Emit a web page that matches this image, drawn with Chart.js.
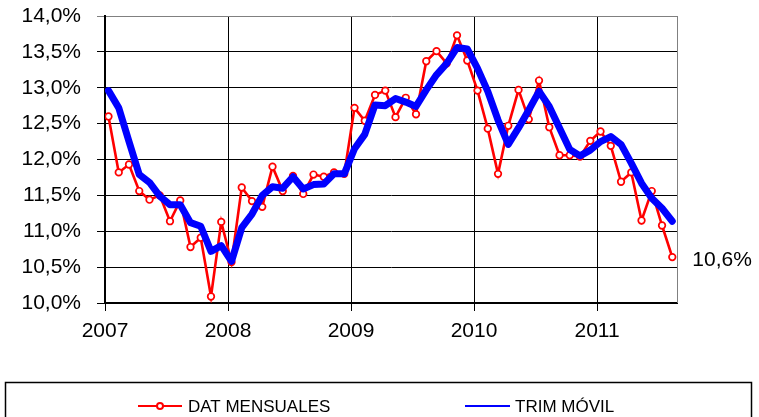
<!DOCTYPE html>
<html>
<head>
<meta charset="utf-8">
<script src="https://cdn.jsdelivr.net/npm/chart.js@4.4.0/dist/chart.umd.min.js"></script>
<style>
  html, body { margin: 0; padding: 0; background: #ffffff; }
  #wrap { position: relative; width: 759px; height: 417px; }
</style>
</head>
<body>
<div id="wrap"><canvas id="c" width="759" height="417"></canvas></div>
<script>
// ---- Data (monthly, Jan 2007 – Aug 2011) ----
const YEAR_LABELS = ['2007', '2008', '2009', '2010', '2011'];
const SERIES_NAMES = ['DAT MENSUALES', 'TRIM MÓVIL'];

const datMensuales2007 = [12.60, 11.82, 11.93, 11.56, 11.44, 11.50, 11.14, 11.43, 10.78, 10.91, 10.09, 11.13];
const datMensuales2008 = [10.57, 11.61, 11.42, 11.34, 11.90, 11.56, 11.77, 11.52, 11.79, 11.76, 11.82, 11.80];
const datMensuales2009 = [12.72, 12.54, 12.90, 12.96, 12.59, 12.86, 12.63, 13.37, 13.51, 13.34, 13.73, 13.38];
const datMensuales2010 = [12.96, 12.43, 11.80, 12.47, 12.97, 12.56, 13.10, 12.45, 12.06, 12.06, 12.04, 12.26];
const datMensuales2011 = [12.39, 12.19, 11.69, 11.82, 11.15, 11.56, 11.08, 10.64];

const trimMovil2007 = [12.96, 12.72, 12.25, 11.79, 11.68, 11.49, 11.37, 11.37, 11.12, 11.07, 10.72, 10.80];
const trimMovil2008 = [10.58, 11.05, 11.24, 11.50, 11.62, 11.60, 11.76, 11.59, 11.65, 11.66, 11.80, 11.80];
const trimMovil2009 = [12.15, 12.35, 12.76, 12.75, 12.85, 12.80, 12.74, 12.97, 13.18, 13.34, 13.56, 13.54];
const trimMovil2010 = [13.27, 12.95, 12.55, 12.21, 12.44, 12.69, 12.95, 12.74, 12.44, 12.14, 12.05, 12.13];
const trimMovil2011 = [12.25, 12.32, 12.21, 11.95, 11.67, 11.46, 11.32, 11.14];

const LAST_LABEL = '10,6%';

// ---- Build ----
const datMensuales = [].concat(datMensuales2007, datMensuales2008, datMensuales2009, datMensuales2010, datMensuales2011);
const trimMovil = [].concat(trimMovil2007, trimMovil2008, trimMovil2009, trimMovil2010, trimMovil2011);
const MONTH_OFFSET = 0.34; // points sit slightly after each year's grid line
const toPts = arr => arr.map((v, i) => ({ x: i + MONTH_OFFSET, y: v }));
const YEAR_TICKS = YEAR_LABELS.map((_, k) => k * 12);

const FONT = "'Liberation Sans', Arial, sans-serif";

const extrasPlugin = {
  id: 'extras',
  afterDatasetsDraw(chart) {
    const ctx = chart.ctx;
    const a = chart.chartArea;
    ctx.save();
    // right border (grey)
    ctx.strokeStyle = '#808080';
    ctx.lineWidth = 1;
    ctx.beginPath();
    ctx.moveTo(Math.round(a.right) + 0.5, a.top);
    ctx.lineTo(Math.round(a.right) + 0.5, a.bottom);
    ctx.stroke();
    // last value label of the monthly series
    const meta = chart.getDatasetMeta(0);
    const last = meta.data[meta.data.length - 1];
    ctx.fillStyle = '#000';
    ctx.font = '21px ' + FONT;
    ctx.textAlign = 'left';
    ctx.textBaseline = 'middle';
    ctx.fillText(LAST_LABEL, last.x + 20, last.y + 3);
    ctx.restore();
  },
  afterDraw(chart) {
    const ctx = chart.ctx;
    ctx.save();
    // legend box
    ctx.strokeStyle = '#000';
    ctx.lineWidth = 1.5;
    ctx.strokeRect(5.5, 382.5, 746, 60);
    const ly = 406;
    // red item
    ctx.strokeStyle = '#FF0000';
    ctx.lineWidth = 2;
    ctx.beginPath(); ctx.moveTo(138, ly); ctx.lineTo(182, ly); ctx.stroke();
    ctx.fillStyle = '#fff';
    ctx.beginPath(); ctx.arc(160, ly, 3, 0, Math.PI * 2); ctx.fill(); ctx.stroke();
    // blue item
    ctx.strokeStyle = '#0000FF';
    ctx.lineWidth = 2;
    ctx.beginPath(); ctx.moveTo(465, ly); ctx.lineTo(510, ly); ctx.stroke();
    ctx.fillStyle = '#000';
    ctx.font = '17px ' + FONT;
    ctx.textAlign = 'left';
    ctx.textBaseline = 'middle';
    ctx.fillText(SERIES_NAMES[0], 188, ly + 1);
    ctx.fillText(SERIES_NAMES[1], 515, ly + 1);
    ctx.restore();
  }
};

new Chart(document.getElementById('c'), {
  type: 'line',
  data: {
    datasets: [
      {
        label: SERIES_NAMES[0],
        data: toPts(datMensuales),
        borderColor: '#FF0000',
        borderWidth: 2.6,
        pointRadius: 3.3,
        pointBorderWidth: 1.7,
        pointBackgroundColor: '#ffffff',
        pointBorderColor: '#FF0000',
        tension: 0,
        order: 1
      },
      {
        label: SERIES_NAMES[1],
        data: toPts(trimMovil),
        borderColor: '#0000FF',
        borderWidth: 7,
        pointRadius: 0,
        borderJoinStyle: 'round',
        borderCapStyle: 'round',
        tension: 0,
        order: 0
      }
    ]
  },
  options: {
    responsive: false,
    animation: false,
    layout: { padding: { top: 16, right: 82, bottom: 74, left: 0 } },
    plugins: {
      legend: { display: false },
      tooltip: { enabled: false }
    },
    scales: {
      x: {
        type: 'linear',
        min: 0,
        max: 55.8,
        afterBuildTicks: s => { s.ticks = YEAR_TICKS.map(v => ({ value: v })); },
        afterFit: s => { s.height = 40; },
        ticks: {
          color: '#000',
          font: { family: FONT, size: 21 },
          padding: 8,
          maxRotation: 0,
          autoSkip: false,
          callback: (v) => YEAR_LABELS[Math.round(v / 12)]
        },
        grid: { color: '#000', lineWidth: 1, tickLength: 8, drawTicks: true },
        border: { color: '#000', width: 2 }
      },
      y: {
        min: 10,
        max: 14,
        afterFit: s => { s.width = 105; s.paddingTop = 0; s.paddingBottom = 0; },
        ticks: {
          stepSize: 0.5,
          color: '#000',
          font: { family: FONT, size: 21 },
          padding: 16,
          callback: v => v.toFixed(1).replace('.', ',') + '%'
        },
        grid: {
          color: c => (c.tick && c.tick.value === 14 ? '#808080' : '#000'),
          lineWidth: 1,
          tickLength: 8,
          drawTicks: true
        },
        border: { color: '#000', width: 2 }
      }
    }
  },
  plugins: [extrasPlugin]
});
</script>
</body>
</html>
